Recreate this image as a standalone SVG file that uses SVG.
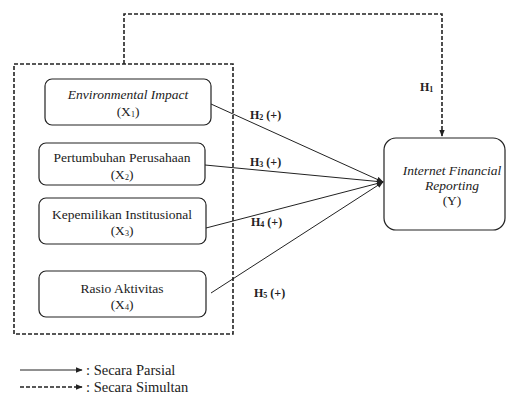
<svg xmlns="http://www.w3.org/2000/svg" width="507" height="401" viewBox="0 0 507 401" font-family="'Liberation Serif', 'DejaVu Serif', serif">
<style>
.box{fill:#fff;stroke:#222;stroke-width:1.2}
.dash{fill:none;stroke:#222;stroke-width:1.6;stroke-dasharray:4 2}
.line{fill:none;stroke:#222;stroke-width:1}
text{font-family:'Liberation Serif','DejaVu Serif',serif;fill:#222;font-size:13.5px}
.c{text-anchor:middle}
.i{font-style:italic}
.h{font-weight:bold;font-size:12px}
.lg{font-size:14.5px}
</style>
<defs>
<marker id="ah" viewBox="0 0 10 10" refX="9" refY="5" markerWidth="7" markerHeight="7" orient="auto" markerUnits="userSpaceOnUse">
<path d="M0,1 L10,5 L0,9 z" fill="#222"/>
</marker>
</defs>
<rect width="507" height="401" fill="#fff"/>
<g id="group-box">
<rect class="dash" x="14" y="64" width="219" height="270"/>
</g>
<g id="connectors">
<path class="dash" d="M124,64 V14 H442 V136" marker-end="url(#ah)"/>
<line class="line" x1="211" y1="104" x2="383" y2="182" marker-end="url(#ah)"/>
<line class="line" x1="205" y1="165" x2="383" y2="182" marker-end="url(#ah)"/>
<line class="line" x1="206" y1="228" x2="383" y2="182" marker-end="url(#ah)"/>
<line class="line" x1="211" y1="293" x2="383" y2="182" marker-end="url(#ah)"/>
<text class="h" x="420" y="91">H<tspan font-size="8" dy="1">1</tspan></text>
<text class="h" x="250" y="119">H<tspan font-size="8" dy="1">2</tspan><tspan dy="-1"> (+)</tspan></text>
<text class="h" x="250" y="166">H<tspan font-size="8" dy="1">3</tspan><tspan dy="-1"> (+)</tspan></text>
<text class="h" x="251" y="226">H<tspan font-size="8" dy="1">4</tspan><tspan dy="-1"> (+)</tspan></text>
<text class="h" x="254" y="297">H<tspan font-size="8" dy="1">5</tspan><tspan dy="-1"> (+)</tspan></text>
</g>
<g id="x1">
<rect class="box" x="45" y="79" width="166" height="46" rx="7"/>
<text class="c i" x="128" y="99">Environmental Impact</text>
<text class="c" x="128" y="116">(X<tspan font-size="8" dy="1">1</tspan><tspan dy="-1">)</tspan></text>
</g>
<g id="x2">
<rect class="box" x="39" y="143" width="166" height="42" rx="7"/>
<text class="c" x="122" y="162">Pertumbuhan Perusahaan</text>
<text class="c" x="122" y="179">(X<tspan font-size="8" dy="1">2</tspan><tspan dy="-1">)</tspan></text>
</g>
<g id="x3">
<rect class="box" x="39" y="198" width="167" height="46" rx="7"/>
<text class="c" x="122" y="219">Kepemilikan Institusional</text>
<text class="c" x="122" y="235">(X<tspan font-size="8" dy="1">3</tspan><tspan dy="-1">)</tspan></text>
</g>
<g id="x4">
<rect class="box" x="39" y="271" width="167" height="46" rx="7"/>
<text class="c" x="122" y="293">Rasio Aktivitas</text>
<text class="c" x="122" y="309">(X<tspan font-size="8" dy="1">4</tspan><tspan dy="-1">)</tspan></text>
</g>
<g id="y">
<rect class="box" x="384" y="138" width="121" height="92" rx="12"/>
<text class="c i" x="452" y="175">Internet Financial</text>
<text class="c i" x="452" y="190">Reporting</text>
<text class="c" x="452" y="205">(Y)</text>
</g>
<g id="legend">
<line class="line" x1="20" y1="370" x2="82" y2="370" marker-end="url(#ah)"/>
<path class="dash" d="M20,387 H82" stroke-dasharray="3 2" stroke-width="1.3" marker-end="url(#ah)"/>
<text class="lg" x="86" y="374.5">: Secara Parsial</text>
<text class="lg" x="86" y="391.5">: Secara Simultan</text>
</g>
</svg>
